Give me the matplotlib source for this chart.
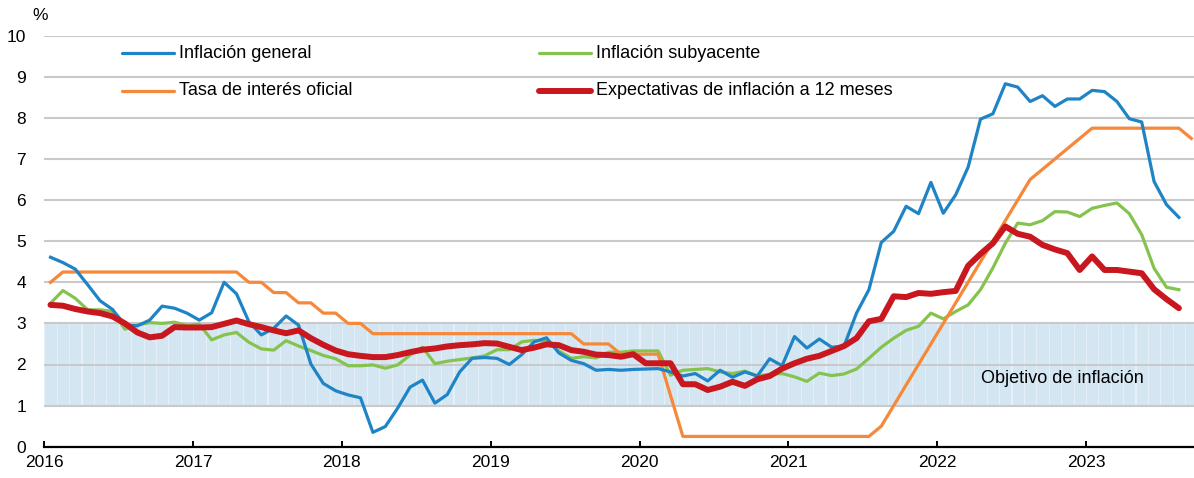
import matplotlib
matplotlib.use('Agg')
from matplotlib import pyplot as plt
from matplotlib import transforms

plt.rcParams['font.family'] = ['Liberation Sans Narrow', 'Liberation Sans', 'DejaVu Sans']

# Monthly data, Jan 2016 onwards
inflacion_general = [
  4.61, 4.48, 4.32, 3.94, 3.55, 3.34, 2.96, 2.94, 3.08, 3.42, 3.37, 3.25,
  3.08, 3.26, 4.00, 3.72, 3.04, 2.72, 2.88, 3.18, 2.96, 2.01, 1.54, 1.36,
  1.26, 1.19, 0.35, 0.49, 0.94, 1.45, 1.62, 1.06, 1.27, 1.82, 2.15, 2.17,
  2.15, 2.00, 2.24, 2.55, 2.65, 2.28, 2.10, 2.02, 1.86, 1.88, 1.86, 1.88,
  1.89, 1.90, 1.82, 1.72, 1.78, 1.60, 1.86, 1.69, 1.82, 1.72, 2.14, 1.97,
  2.68, 2.40, 2.62, 2.42, 2.45, 3.25, 3.82, 4.97, 5.24, 5.85, 5.67, 6.43,
  5.68, 6.13, 6.80, 7.97, 8.10, 8.83, 8.75, 8.40, 8.54, 8.28, 8.46, 8.46,
  8.67, 8.64, 8.40, 7.98, 7.90, 6.45, 5.89, 5.58,
]
inflacion_subyacente = [
  3.49, 3.80, 3.61, 3.33, 3.33, 3.29, 2.86, 2.96, 3.02, 3.00, 3.03, 2.95,
  2.98, 2.60, 2.72, 2.78, 2.54, 2.38, 2.35, 2.58, 2.45, 2.34, 2.22, 2.14,
  1.97, 1.97, 1.99, 1.91, 1.99, 2.23, 2.42, 2.02, 2.08, 2.12, 2.16, 2.21,
  2.36, 2.36, 2.55, 2.59, 2.56, 2.33, 2.15, 2.19, 2.16, 2.30, 2.30, 2.33,
  2.33, 2.33, 1.74, 1.86, 1.88, 1.90, 1.82, 1.78, 1.84, 1.72, 1.76, 1.78,
  1.70, 1.59, 1.79, 1.73, 1.77, 1.89, 2.15, 2.42, 2.64, 2.83, 2.93, 3.25,
  3.11, 3.29, 3.45, 3.82, 4.35, 4.95, 5.44, 5.40, 5.50, 5.72, 5.71, 5.60,
  5.80, 5.87, 5.93, 5.67, 5.16, 4.34, 3.88, 3.82,
]
tasa_interes = [
  4.00, 4.25, 4.25, 4.25, 4.25, 4.25, 4.25, 4.25, 4.25, 4.25, 4.25, 4.25,
  4.25, 4.25, 4.25, 4.25, 4.00, 4.00, 3.75, 3.75, 3.50, 3.50, 3.25, 3.25,
  3.00, 3.00, 2.75, 2.75, 2.75, 2.75, 2.75, 2.75, 2.75, 2.75, 2.75, 2.75,
  2.75, 2.75, 2.75, 2.75, 2.75, 2.75, 2.75, 2.50, 2.50, 2.50, 2.25, 2.25,
  2.25, 2.25, 1.25, 0.25, 0.25, 0.25, 0.25, 0.25, 0.25, 0.25, 0.25, 0.25,
  0.25, 0.25, 0.25, 0.25, 0.25, 0.25, 0.25, 0.50, 1.00, 1.50, 2.00, 2.50,
  3.00, 3.50, 4.00, 4.50, 5.00, 5.50, 6.00, 6.50, 6.75, 7.00, 7.25, 7.50,
  7.75, 7.75, 7.75, 7.75, 7.75, 7.75, 7.75, 7.75, 7.50,
]
expectativas = [
  3.45, 3.43, 3.35, 3.29, 3.25, 3.17, 3.00, 2.78, 2.66, 2.70, 2.91, 2.90,
  2.90, 2.91, 2.99, 3.07, 2.98, 2.91, 2.83, 2.76, 2.83, 2.64, 2.48, 2.34,
  2.25, 2.21, 2.18, 2.18, 2.23, 2.30, 2.36, 2.39, 2.44, 2.47, 2.49, 2.52,
  2.51, 2.43, 2.35, 2.41, 2.49, 2.47, 2.35, 2.31, 2.24, 2.23, 2.19, 2.25,
  2.03, 2.03, 2.03, 1.52, 1.52, 1.38, 1.46, 1.58, 1.48, 1.64, 1.72, 1.90,
  2.03, 2.14, 2.21, 2.33, 2.45, 2.64, 3.05, 3.11, 3.66, 3.64, 3.74, 3.72,
  3.76, 3.79, 4.40, 4.69, 4.95, 5.36, 5.18, 5.11, 4.91, 4.80, 4.71, 4.30,
  4.63, 4.30, 4.30, 4.26, 4.22, 3.83, 3.59, 3.37,
]
objetivo_min = 1
objetivo_max = 3
years = list(range(2016, 2024))

labels = ['Inflación general', 'Inflación subyacente',
          'Tasa de interés oficial', 'Expectativas de inflación a 12 meses']
colors = ['#1e84c6', '#85c34e', '#f6883a', '#c8171f']


def month_x(n):
  return [2016 + (i + 0.5) / 12 for i in range(n)]


W, H = 1194, 478
fig = plt.figure(figsize=(W / 100, H / 100), dpi=100)
ax = fig.add_axes([44.3 / W, 1 - 446.7 / H, (W - 44.3) / W, (446.7 - 35.7) / H])

# target band, drawn as monthly bars
ax.bar(month_x(len(tasa_interes)), objetivo_max - objetivo_min, bottom=objetivo_min,
       width=1 / 12, color='#d5e6f3', edgecolor='#e6f0f8', linewidth=0.6, zorder=1)

ax.plot(month_x(len(inflacion_general)), inflacion_general, color=colors[0], lw=2.3, zorder=4)
ax.plot(month_x(len(inflacion_subyacente)), inflacion_subyacente, color=colors[1], lw=2.3, zorder=3)
ax.plot(month_x(len(tasa_interes)), tasa_interes, color=colors[2], lw=2.3, zorder=3)
ax.plot(month_x(len(expectativas)), expectativas, color=colors[3], lw=4.3, zorder=5,
        solid_capstyle='round', solid_joinstyle='round')

ax.set_xlim(2016, 2016 + (W - 44.3) / 148.8)
ax.set_ylim(0, 10)
ax.set_yticks(range(0, 11))
ax.set_xticks(years)
ax.set_xticklabels([str(y) for y in years])
offset = transforms.ScaledTranslation(5 / 100, 0, fig.dpi_scale_trans)
for lab in ax.get_xticklabels():
  lab.set_transform(lab.get_transform() + offset)

ax.grid(axis='y', color='#c9c9c9', lw=1.5, zorder=2)
ax.set_axisbelow(False)
for s in ['top', 'right', 'left']:
  ax.spines[s].set_visible(False)
ax.spines['bottom'].set_linewidth(1.6)
ax.spines['bottom'].set_zorder(6)
ax.tick_params(axis='y', length=0, pad=13, labelsize=12.5)
ax.tick_params(axis='x', direction='in', length=4.5, width=1.4, pad=6, labelsize=12.5)
for gl in ax.get_ygridlines():
  gl.set_zorder(2)

fig.text(40 / W, 1 - 15 / H, '%', fontsize=12.5, ha='center', va='center')
ax.text(2016 + (1062 - 44.3) / 148.8, 1.67, 'Objetivo de inflación',
        family=['Liberation Sans', 'DejaVu Sans'], fontsize=13, ha='center', va='center', zorder=6)

# legend, two columns
order = [0, 2, 1, 3]
for k, idx in enumerate(order):
  col, row = divmod(k, 2)
  x0 = [122, 539][col]
  y = 1 - [53.3, 90.7][row] / H
  fig.add_artist(plt.Line2D([x0 / W, (x0 + 52) / W], [y, y], color=colors[idx],
                            lw=4.3 if idx == 3 else 2.3, solid_capstyle='round'))
  fig.text((x0 + 57) / W, y, labels[idx], fontsize=13, va='center', ha='left')

fig.savefig('out.png', dpi=100)
